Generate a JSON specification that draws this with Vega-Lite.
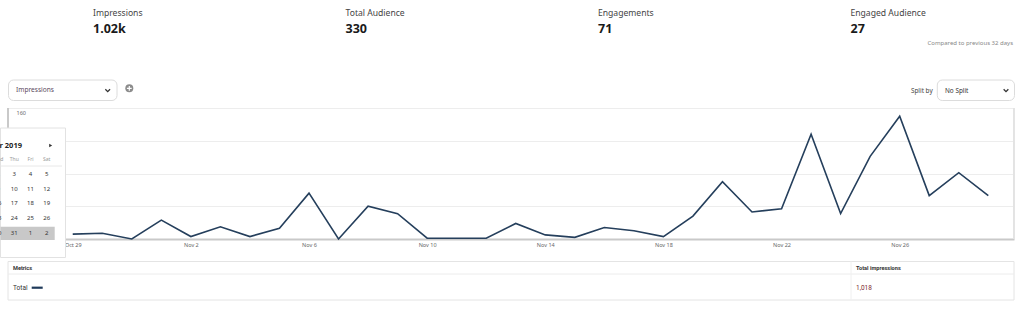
{
  "$schema": "https://vega.github.io/schema/vega-lite/v6.json",
  "padding": 0,
  "spacing": 3,
  "bounds": "full",
  "background": "white",
  "config": {"font": "Noto Sans", "view": {"stroke": null}},
  "datasets": {
    "kpis": [
      {"metric": "Impressions", "value": "1.02k"},
      {"metric": "Total Audience", "value": "330"},
      {"metric": "Engagements", "value": "71"},
      {"metric": "Engaged Audience", "value": "27"}
    ],
    "daily": [
      {"date": "2019-10-29", "impressions": 6},
      {"date": "2019-10-30", "impressions": 7},
      {"date": "2019-10-31", "impressions": 0},
      {"date": "2019-11-01", "impressions": 23},
      {"date": "2019-11-02", "impressions": 3},
      {"date": "2019-11-03", "impressions": 15},
      {"date": "2019-11-04", "impressions": 3},
      {"date": "2019-11-05", "impressions": 13},
      {"date": "2019-11-06", "impressions": 56},
      {"date": "2019-11-07", "impressions": 0},
      {"date": "2019-11-08", "impressions": 40},
      {"date": "2019-11-09", "impressions": 31},
      {"date": "2019-11-10", "impressions": 1},
      {"date": "2019-11-11", "impressions": 1},
      {"date": "2019-11-12", "impressions": 1},
      {"date": "2019-11-13", "impressions": 19},
      {"date": "2019-11-14", "impressions": 5},
      {"date": "2019-11-15", "impressions": 2},
      {"date": "2019-11-16", "impressions": 14},
      {"date": "2019-11-17", "impressions": 10},
      {"date": "2019-11-18", "impressions": 3},
      {"date": "2019-11-19", "impressions": 28},
      {"date": "2019-11-20", "impressions": 70},
      {"date": "2019-11-21", "impressions": 33},
      {"date": "2019-11-22", "impressions": 37},
      {"date": "2019-11-23", "impressions": 128},
      {"date": "2019-11-24", "impressions": 31},
      {"date": "2019-11-25", "impressions": 101},
      {"date": "2019-11-26", "impressions": 150},
      {"date": "2019-11-27", "impressions": 53},
      {"date": "2019-11-28", "impressions": 81},
      {"date": "2019-11-29", "impressions": 53}
    ],
    "calendar": [
      {"row": "head", "dow": "Sun", "label": "Sun"},
      {"row": "head", "dow": "Mon", "label": "Mon"},
      {"row": "head", "dow": "Tue", "label": "Tue"},
      {"row": "head", "dow": "Wed", "label": "Wed"},
      {"row": "head", "dow": "Thu", "label": "Thu"},
      {"row": "head", "dow": "Fri", "label": "Fri"},
      {"row": "head", "dow": "Sat", "label": "Sat"},
      {"row": "w1", "dow": "Tue", "label": "1"},
      {"row": "w1", "dow": "Wed", "label": "2"},
      {"row": "w1", "dow": "Thu", "label": "3"},
      {"row": "w1", "dow": "Fri", "label": "4"},
      {"row": "w1", "dow": "Sat", "label": "5"},
      {"row": "w2", "dow": "Sun", "label": "6"},
      {"row": "w2", "dow": "Mon", "label": "7"},
      {"row": "w2", "dow": "Tue", "label": "8"},
      {"row": "w2", "dow": "Wed", "label": "9"},
      {"row": "w2", "dow": "Thu", "label": "10"},
      {"row": "w2", "dow": "Fri", "label": "11"},
      {"row": "w2", "dow": "Sat", "label": "12"},
      {"row": "w3", "dow": "Sun", "label": "13"},
      {"row": "w3", "dow": "Mon", "label": "14"},
      {"row": "w3", "dow": "Tue", "label": "15"},
      {"row": "w3", "dow": "Wed", "label": "16"},
      {"row": "w3", "dow": "Thu", "label": "17"},
      {"row": "w3", "dow": "Fri", "label": "18"},
      {"row": "w3", "dow": "Sat", "label": "19"},
      {"row": "w4", "dow": "Sun", "label": "20"},
      {"row": "w4", "dow": "Mon", "label": "21"},
      {"row": "w4", "dow": "Tue", "label": "22"},
      {"row": "w4", "dow": "Wed", "label": "23"},
      {"row": "w4", "dow": "Thu", "label": "24"},
      {"row": "w4", "dow": "Fri", "label": "25"},
      {"row": "w4", "dow": "Sat", "label": "26"},
      {"row": "w5", "dow": "Sun", "label": "27"},
      {"row": "w5", "dow": "Mon", "label": "28"},
      {"row": "w5", "dow": "Tue", "label": "29"},
      {"row": "w5", "dow": "Wed", "label": "30"},
      {"row": "w5", "dow": "Thu", "label": "31"},
      {"row": "w5", "dow": "Fri", "label": "1"},
      {"row": "w5", "dow": "Sat", "label": "2"}
    ],
    "table": [
      {"metric": "Total", "total_impressions": "1,018"}
    ]
  },
  "vconcat": [
    {
      "width": 1014,
      "height": 103.5,
      "layer": [
        {
          "data": {"name": "kpis"},
          "mark": {"type": "text", "align": "left", "baseline": "middle", "fontSize": 8.6, "color": "#444444"},
          "encoding": {
            "x": {"field": "metric", "type": "nominal", "sort": null, "scale": {"type": "point", "range": [93, 850.5], "padding": 0}, "axis": null},
            "y": {"value": 13},
            "text": {"field": "metric"}
          }
        },
        {
          "data": {"name": "kpis"},
          "mark": {"type": "text", "align": "left", "baseline": "middle", "fontSize": 12.5, "fontWeight": "bold", "color": "#1a1a1a"},
          "encoding": {
            "x": {"field": "metric", "type": "nominal", "sort": null, "scale": {"type": "point", "range": [93, 850.5], "padding": 0}, "axis": null},
            "y": {"value": 28.5},
            "text": {"field": "value"}
          }
        },
        {
          "data": {"values": [{"note": "Compared to previous 32 days"}]},
          "mark": {"type": "text", "align": "right", "baseline": "middle", "fontSize": 6, "color": "#888888"},
          "encoding": {"x": {"value": 1013}, "y": {"value": 43}, "text": {"field": "note"}}
        },
        {
          "data": {"values": [{"control": "Impressions"}]},
          "mark": {"type": "rect", "cornerRadius": 5, "fill": "white", "stroke": "#dcdcdc", "strokeWidth": 1},
          "encoding": {"x": {"value": 8.5}, "x2": {"value": 117}, "y": {"value": 80}, "y2": {"value": 100.5}}
        },
        {
          "data": {"values": [{"control": "Impressions"}]},
          "mark": {"type": "text", "align": "left", "baseline": "middle", "fontSize": 6.6, "color": "#5b4a60"},
          "encoding": {"x": {"value": 16}, "y": {"value": 90.3}, "text": {"field": "control"}}
        },
        {
          "data": {"values": [{"control": "Impressions"}]},
          "mark": {"type": "point", "shape": "M-1,-0.5L0,0.5L1,-0.5", "filled": false, "stroke": "#333333", "strokeWidth": 1.3, "size": 22, "opacity": 1},
          "encoding": {"x": {"value": 107.7}, "y": {"value": 90.5}}
        },
        {
          "data": {"values": [{"control": "add"}]},
          "mark": {"type": "point", "shape": "circle", "filled": true, "color": "#8c8c8c", "size": 64, "opacity": 1},
          "encoding": {"x": {"value": 129.3}, "y": {"value": 88.3}}
        },
        {
          "data": {"values": [{"control": "add"}]},
          "mark": {"type": "point", "shape": "M-0.6,0L0.6,0M0,-0.6L0,0.6", "filled": false, "stroke": "white", "strokeWidth": 1.2, "size": 64, "opacity": 1},
          "encoding": {"x": {"value": 129.3}, "y": {"value": 88.3}}
        },
        {
          "data": {"values": [{"control": "Split by"}]},
          "mark": {"type": "text", "align": "right", "baseline": "middle", "fontSize": 6.4, "color": "#444444"},
          "encoding": {"x": {"value": 932.7}, "y": {"value": 90.7}, "text": {"field": "control"}}
        },
        {
          "data": {"values": [{"control": "No Split"}]},
          "mark": {"type": "rect", "cornerRadius": 5, "fill": "white", "stroke": "#dcdcdc", "strokeWidth": 1},
          "encoding": {"x": {"value": 937.3}, "x2": {"value": 1014.5}, "y": {"value": 80}, "y2": {"value": 100.5}}
        },
        {
          "data": {"values": [{"control": "No Split"}]},
          "mark": {"type": "text", "align": "left", "baseline": "middle", "fontSize": 6.4, "color": "#333333"},
          "encoding": {"x": {"value": 945}, "y": {"value": 90.5}, "text": {"field": "control"}}
        },
        {
          "data": {"values": [{"control": "No Split"}]},
          "mark": {"type": "point", "shape": "M-1,-0.5L0,0.5L1,-0.5", "filled": false, "stroke": "#333333", "strokeWidth": 1.3, "size": 22, "opacity": 1},
          "encoding": {"x": {"value": 1006}, "y": {"value": 90.5}}
        }
      ]
    },
    {
      "width": 1014,
      "height": 131,
      "layer": [
        {
          "data": {"name": "daily"},
          "encoding": {
            "x": {
              "field": "date",
              "type": "temporal",
              "scale": {
                "type": "utc",
                "range": [8, 1014],
                "domain": [
                  {"year": 2019, "month": 10, "date": 26, "hours": 19, "minutes": 24, "utc": true},
                  {"year": 2019, "month": 11, "date": 29, "hours": 20, "minutes": 53, "utc": true}
                ]
              },
              "axis": {
                "title": null,
                "values": [
                  {"year": 2019, "month": 10, "date": 29, "utc": true},
                  {"year": 2019, "month": 11, "date": 2, "utc": true},
                  {"year": 2019, "month": 11, "date": 6, "utc": true},
                  {"year": 2019, "month": 11, "date": 10, "utc": true},
                  {"year": 2019, "month": 11, "date": 14, "utc": true},
                  {"year": 2019, "month": 11, "date": 18, "utc": true},
                  {"year": 2019, "month": 11, "date": 22, "utc": true},
                  {"year": 2019, "month": 11, "date": 26, "utc": true}
                ],
                "format": "%b %-d",
                "grid": false,
                "ticks": false,
                "tickSize": 0,
                "labelFontSize": 5.5,
                "labelColor": "#666666",
                "labelPadding": 3,
                "labelFlush": false,
                "labelOverlap": false,
                "domainColor": "#c9c9c9",
                "domainWidth": 2,
                "zindex": 0
              }
            },
            "y": {
              "field": "impressions",
              "type": "quantitative",
              "scale": {"domain": [0, 160], "nice": false},
              "axis": {
                "title": null,
                "values": [0, 40, 80, 120, 160],
                "grid": true,
                "gridColor": "#ededed",
                "gridWidth": 1,
                "ticks": false,
                "tickSize": 0,
                "domain": false,
                "labelAlign": "left",
                "labelBaseline": "top",
                "labelPadding": -16,
                "labelOffset": 2.5,
                "labelFontSize": 5.5,
                "labelColor": "#666666",
                "labelFlush": false,
                "labelOverlap": false,
                "zindex": 0
              }
            }
          },
          "layer": [
            {
              "mark": {"type": "rule", "color": "#c9c9c9", "strokeWidth": 2},
              "encoding": {
                "x": {"datum": {"year": 2019, "month": 10, "date": 26, "hours": 19, "minutes": 24, "utc": true}},
                "y": {"datum": 0},
                "y2": {"datum": 160}
              }
            },
            {
              "mark": {"type": "rule", "color": "#e3e3e3", "strokeWidth": 1},
              "encoding": {
                "x": {"datum": {"year": 2019, "month": 11, "date": 29, "hours": 20, "minutes": 53, "utc": true}},
                "y": {"datum": 0},
                "y2": {"datum": 160}
              }
            },
            {
              "mark": {"type": "line", "color": "#253f5c", "strokeWidth": 1.6}
            }
          ]
        },
        {
          "layer": [
            {
              "data": {"values": [{"panel": "calendar"}]},
              "mark": {"type": "rect", "fill": "white", "stroke": "#e2e2e2", "strokeWidth": 1},
              "encoding": {"x": {"value": 0.5}, "x2": {"value": 65.5}, "y": {"value": 20}, "y2": {"value": 149.5}}
            },
            {
              "data": {"values": [{"panel": "selected week"}]},
              "mark": {"type": "rect", "fill": "#c8c8c8"},
              "encoding": {"x": {"value": 0.5}, "x2": {"value": 54.7}, "y": {"value": 118.7}, "y2": {"value": 132}}
            },
            {
              "data": {"values": [{"panel": "separator"}]},
              "mark": {"type": "rule", "color": "#e8e8e8"},
              "encoding": {"x": {"value": 0.5}, "x2": {"value": 62}, "y": {"value": 58}}
            },
            {
              "data": {"values": [{"month": "October 2019"}]},
              "mark": {"type": "text", "align": "right", "baseline": "middle", "fontSize": 7.5, "fontWeight": "bold", "color": "#222222", "clip": true},
              "encoding": {"x": {"value": 22}, "y": {"value": 37.7}, "text": {"field": "month"}}
            },
            {
              "data": {"values": [{"panel": "next"}]},
              "mark": {"type": "point", "shape": "triangle-right", "filled": true, "color": "#333333", "size": 12, "opacity": 1},
              "encoding": {"x": {"value": 50.7}, "y": {"value": 37.5}}
            },
            {
              "data": {"name": "calendar"},
              "transform": [{"filter": "datum.row === 'head'"}],
              "mark": {"type": "text", "align": "center", "baseline": "middle", "fontSize": 5, "color": "#9a9a9a", "clip": true},
              "encoding": {
                "x": {"field": "dow", "type": "nominal", "scale": {"type": "point", "domain": ["Sun", "Mon", "Tue", "Wed", "Thu", "Fri", "Sat"], "range": [-50.5, 46.7], "padding": 0}, "axis": null},
                "y": {"field": "row", "type": "nominal", "scale": {"type": "point", "domain": ["head", "w1", "w2", "w3", "w4", "w5"], "range": [51, 125], "padding": 0}, "axis": null},
                "text": {"field": "label"}
              }
            },
            {
              "data": {"name": "calendar"},
              "transform": [{"filter": "datum.row !== 'head'"}],
              "mark": {"type": "text", "align": "center", "baseline": "middle", "fontSize": 6, "color": "#333333", "clip": true},
              "encoding": {
                "x": {"field": "dow", "type": "nominal", "scale": {"type": "point", "domain": ["Sun", "Mon", "Tue", "Wed", "Thu", "Fri", "Sat"], "range": [-50.5, 46.7], "padding": 0}, "axis": null},
                "y": {"field": "row", "type": "nominal", "scale": {"type": "point", "domain": ["head", "w1", "w2", "w3", "w4", "w5"], "range": [51, 125], "padding": 0}, "axis": null},
                "text": {"field": "label"}
              }
            }
          ]
        }
      ],
      "resolve": {"scale": {"x": "independent", "y": "independent"}}
    },
    {
      "width": 1014,
      "height": 39,
      "data": {"name": "table"},
      "layer": [
        {
          "mark": {"type": "rect", "fill": null, "stroke": "#e4e4e4", "strokeWidth": 1},
          "encoding": {"x": {"value": 8}, "x2": {"value": 1014}, "y": {"value": 0.5}, "y2": {"value": 39}}
        },
        {
          "mark": {"type": "rule", "color": "#ececec"},
          "encoding": {"x": {"value": 8}, "x2": {"value": 1014}, "y": {"value": 13}}
        },
        {
          "mark": {"type": "rule", "color": "#f0f0f0"},
          "encoding": {"x": {"value": 851}, "y": {"value": 0.5}, "y2": {"value": 39}}
        },
        {
          "mark": {"type": "text", "align": "left", "baseline": "middle", "fontSize": 5.6, "fontWeight": "bold", "color": "#333333", "font": "Roboto"},
          "encoding": {"x": {"value": 13}, "y": {"value": 7.3}, "text": {"value": "Metrics"}}
        },
        {
          "mark": {"type": "text", "align": "left", "baseline": "middle", "fontSize": 5.6, "fontWeight": "bold", "color": "#333333", "font": "Roboto"},
          "encoding": {"x": {"value": 856}, "y": {"value": 7.3}, "text": {"value": "Total impressions"}}
        },
        {
          "mark": {"type": "text", "align": "left", "baseline": "middle", "fontSize": 6.5, "color": "#333333", "font": "Roboto"},
          "encoding": {"x": {"value": 13}, "y": {"value": 26.7}, "text": {"field": "metric"}}
        },
        {
          "mark": {"type": "rule", "color": "#1f3a5a", "strokeWidth": 2.2},
          "encoding": {"x": {"value": 31.7}, "x2": {"value": 42.7}, "y": {"value": 26.7}}
        },
        {
          "mark": {"type": "text", "align": "left", "baseline": "middle", "fontSize": 6.5, "color": "#7a1f2b", "font": "Roboto"},
          "encoding": {"x": {"value": 856}, "y": {"value": 26.7}, "text": {"field": "total_impressions"}}
        }
      ]
    }
  ]
}
